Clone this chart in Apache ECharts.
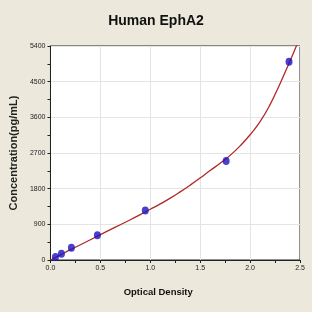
<!DOCTYPE html>
<html><head><meta charset="utf-8">
<script src="https://cdn.jsdelivr.net/npm/echarts@6/dist/echarts.min.js"></script>
<style>html,body{margin:0;padding:0;background:#ece9dc;}#c{width:312px;height:312px;}</style>
</head><body><div id="c"></div>
<script>
// Standard points
const stdOD = [0.05, 0.11, 0.21, 0.47, 0.95, 1.76, 2.39];
const stdConc = [78, 156, 312, 625, 1250, 2500, 5000];
// Fitted curve
const curveOD = [0,0.1,0.2,0.3,0.4,0.5,0.6,0.7,0.8,0.9,1.0,1.1,1.2,1.3,1.4,1.5,1.6,1.7,1.8,1.9,2.0,2.1,2.2,2.3,2.4,2.47];
const curveConc = [0,130,260,385,510,640,765,890,1015,1145,1280,1415,1560,1720,1890,2070,2260,2440,2640,2880,3160,3490,3920,4450,5020,5440];
const yTicks = [0,900,1800,2700,3600,4500,5400];
const xTicks = [0,0.5,1,1.5,2,2.5];

const chart = echarts.init(document.getElementById('c'));
const font = 'Liberation Sans';
chart.setOption({
  backgroundColor: '#ece9dc',
  animation: false,
  title: {text: 'Human EphA2', left: 'center', top: 9,
    textStyle: {fontFamily: font, fontSize: 14, fontWeight: 'bold', color: '#111'}},
  grid: {left: 44, right: 12, top: 46, bottom: 52, show: true, backgroundColor: '#fff', borderColor: '#222', borderWidth: 1},
  xAxis: {type: 'value', min: 0, max: 2.5, interval: 0.5,
    name: 'Optical Density', nameLocation: 'middle', nameGap: 27,
    nameTextStyle: {fontFamily: font, fontSize: 9.5, fontWeight: 'bold', color: '#111', padding: [0, 34, 0, 0]},
    axisLine: {lineStyle: {color: '#222'}},
    axisTick: {length: 3, lineStyle: {color: '#222'}},
    minorTick: {show: true, splitNumber: 2, length: 3, lineStyle: {color: '#222'}},
    axisLabel: {fontFamily: font, fontSize: 7, color: '#222', margin: 5,
      formatter: v => v.toFixed(1)},
    splitLine: {show: true, lineStyle: {color: '#e4e4e4'}}},
  yAxis: {type: 'value', min: 0, max: 5400, interval: 900,
    name: 'Concentration(pg/mL)', nameLocation: 'middle', nameGap: 29,
    nameTextStyle: {fontFamily: font, fontSize: 11, fontWeight: 'bold', color: '#222'},
    axisLine: {show: true, lineStyle: {color: '#222'}},
    axisTick: {show: true, length: 3, lineStyle: {color: '#222'}},
    minorTick: {show: true, splitNumber: 2, length: 3, lineStyle: {color: '#222'}},
    axisLabel: {fontFamily: font, fontSize: 7, color: '#222', margin: 5, formatter: v => String(v)},
    splitLine: {show: true, lineStyle: {color: '#e4e4e4'}}},
  series: [
    {type: 'line', data: curveOD.map((x,i)=>[x, curveConc[i]]), smooth: true, symbol: 'none',
      lineStyle: {color: '#b02828', width: 1.3}, z: 2},
    {type: 'scatter', data: stdOD.map((x,i)=>[x, stdConc[i]]), symbol: 'circle', symbolSize: [7,8],
      itemStyle: {color: '#1c12c0'}, z: 3}
  ]
});
</script></body></html>
